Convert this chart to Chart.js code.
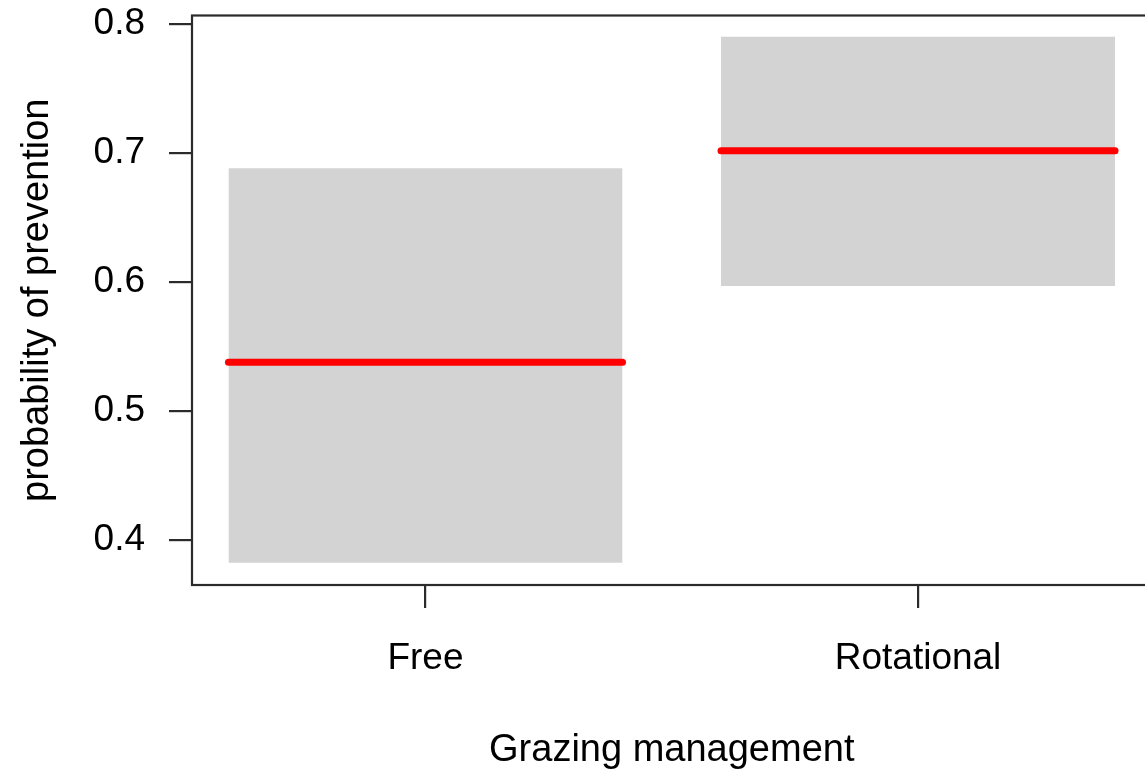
<!DOCTYPE html>
<html>
<head>
<meta charset="utf-8">
<script src="https://cdn.jsdelivr.net/npm/chart.js@4"></script>
<style>
  html, body { margin: 0; padding: 0; background: #fff; overflow: hidden; }
  #wrap { width: 1160px; height: 770px; }
</style>
</head>
<body>
<div id="wrap"><canvas id="c" width="1160" height="770"></canvas></div>
<script>
// Fitted probability of prevention with confidence band, by grazing management
const categories = ['Free', 'Rotational'];
const fitValues = [0.5377, 0.7018];
const lowerValues = [0.3824, 0.5969];
const upperValues = [0.6881, 0.7902];
const yTickValues = [0.4, 0.5, 0.6, 0.7, 0.8];
const yTickLabels = ['0.4', '0.5', '0.6', '0.7', '0.8'];

const HALF = 0.4;          // half-width of each level's band on the x axis
const FONT = '"Liberation Sans", Arial, Helvetica, sans-serif';
const AXIS_COLOR = '#2b2b2b';

const datasets = [];
categories.forEach((cat, i) => {
  // band: upper edge filled down to the lower edge
  datasets.push({
    label: cat + ' upper',
    data: [{x: i - HALF, y: upperValues[i]}, {x: i + HALF, y: upperValues[i]}],
    borderWidth: 0,
    borderColor: 'rgba(0,0,0,0)',
    backgroundColor: '#d3d3d3',
    pointRadius: 0,
    fill: '+1',
    order: 2
  });
  datasets.push({
    label: cat + ' lower',
    data: [{x: i - HALF, y: lowerValues[i]}, {x: i + HALF, y: lowerValues[i]}],
    borderWidth: 0,
    borderColor: 'rgba(0,0,0,0)',
    pointRadius: 0,
    fill: false,
    order: 2
  });
});
categories.forEach((cat, i) => {
  datasets.push({
    label: cat + ' fit',
    data: [{x: i - HALF, y: fitValues[i]}, {x: i + HALF, y: fitValues[i]}],
    borderWidth: 7,
    borderColor: '#ff0000',
    borderCapStyle: 'round',
    pointRadius: 0,
    fill: false,
    order: 0
  });
});

// frame around the plotting region
const framePlugin = {
  id: 'frame',
  afterDraw(chart) {
    const {ctx, chartArea: a} = chart;
    ctx.save();
    ctx.strokeStyle = AXIS_COLOR;
    ctx.lineWidth = 2.2;
    ctx.strokeRect(a.left, a.top, a.right - a.left, a.bottom - a.top);
    ctx.restore();
  }
};

function noEdgePadding(scale) {
  scale.paddingTop = 0;
  scale.paddingBottom = 0;
  scale.paddingLeft = 0;
  scale.paddingRight = 0;
}

new Chart(document.getElementById('c'), {
  type: 'line',
  data: { datasets },
  plugins: [framePlugin],
  options: {
    responsive: false,
    animation: false,
    layout: { padding: { top: 15.5, right: 8.5, bottom: 0, left: 0 } },
    plugins: { legend: { display: false }, tooltip: { enabled: false } },
    scales: {
      x: {
        type: 'linear',
        min: -0.474,
        max: 1.474,
        afterBuildTicks(scale) {
          scale.ticks = categories.map((c, i) => ({ value: i }));
        },
        afterFit(scale) { scale.height = 185; noEdgePadding(scale); },
        border: { display: false },
        grid: {
          drawOnChartArea: false,
          drawTicks: true,
          tickLength: 23,
          tickColor: AXIS_COLOR,
          lineWidth: 2.2
        },
        ticks: {
          autoSkip: false,
          maxRotation: 0,
          padding: 29,
          color: '#000',
          font: { family: FONT, size: 37, lineHeight: 1.2 },
          callback: (v) => categories[v]
        },
        title: {
          display: true,
          text: 'Grazing management',
          color: '#000',
          font: { family: FONT, size: 38, lineHeight: 1.2 },
          padding: { top: 0, bottom: -3 }
        }
      },
      y: {
        type: 'linear',
        min: 0.3651,
        max: 0.8066,
        afterBuildTicks(scale) {
          scale.ticks = yTickValues.map(v => ({ value: v }));
        },
        afterFit(scale) { scale.width = 192; noEdgePadding(scale); },
        border: { display: false },
        grid: {
          drawOnChartArea: false,
          drawTicks: true,
          tickLength: 23,
          tickColor: AXIS_COLOR,
          lineWidth: 2.2
        },
        ticks: {
          padding: 24,
          color: '#000',
          font: { family: FONT, size: 37, lineHeight: 1.2 },
          callback: (v) => yTickLabels[yTickValues.indexOf(v)]
        },
        title: {
          display: true,
          text: 'probability of prevention',
          color: '#000',
          font: { family: FONT, size: 38, lineHeight: 1.2 },
          padding: { top: 15, bottom: 0 }
        }
      }
    }
  }
});
</script>
</body>
</html>
